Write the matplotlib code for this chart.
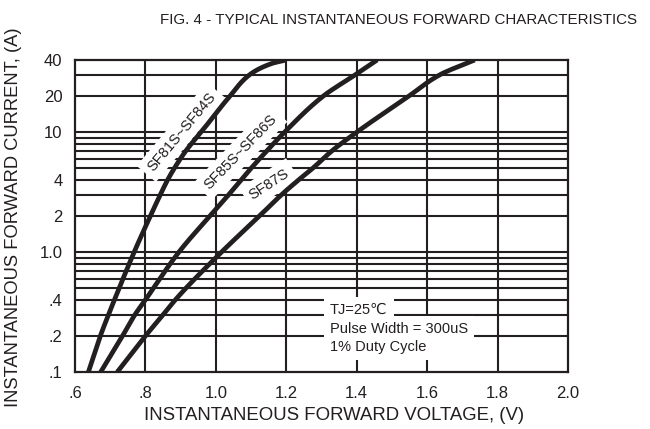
import matplotlib
matplotlib.use("Agg")
import matplotlib.pyplot as plt
import numpy as np

plt.rcParams['font.family'] = ['Liberation Sans', 'DejaVu Sans']

# --- data ---
v_sf81 = [0.638, 0.672, 0.695, 0.712, 0.768, 0.814, 0.842, 0.863, 0.882, 0.915, 0.958, 1.040, 1.095, 1.160, 1.200]
i_sf81 = [0.10, 0.20, 0.30, 0.40, 1.0, 2.0, 3.0, 4.0, 5.0, 7.0, 10.0, 20.0, 30.0, 37.5, 40.0]

v_sf85 = [0.673, 0.735, 0.770, 0.800, 0.895, 0.983, 1.036, 1.072, 1.100, 1.145, 1.195, 1.305, 1.395, 1.458]
i_sf85 = [0.10, 0.20, 0.30, 0.40, 1.0, 2.0, 3.0, 4.0, 5.0, 7.0, 10.0, 20.0, 30.0, 40.0]

v_sf87 = [0.720, 0.800, 0.850, 0.885, 1.016, 1.124, 1.186, 1.235, 1.275, 1.330, 1.400, 1.548, 1.635, 1.735]
i_sf87 = [0.10, 0.20, 0.30, 0.40, 1.0, 2.0, 3.0, 4.0, 5.0, 7.0, 10.0, 20.0, 30.0, 40.0]

x_ticks = [0.6, 0.8, 1.0, 1.2, 1.4, 1.6, 1.8, 2.0]
x_ticklabels = ['.6', '.8', '1.0', '1.2', '1.4', '1.6', '1.8', '2.0']
y_ticks = [0.1, 0.2, 0.4, 1.0, 2, 4, 10, 20, 40]
y_ticklabels = ['.1', '.2', '.4', '1.0', '2', '4', '10', '20', '40']
x_grid = [0.8, 1.0, 1.2, 1.4, 1.6, 1.8]
y_grid = [0.2, 0.3, 0.4, 0.5, 0.6, 0.7, 0.8, 0.9, 1.0, 2, 3, 4, 5, 6, 7, 8, 9, 10, 20, 30]

curve_labels = ['SF81S~SF84S', 'SF85S~SF86S', 'SF87S']
label_v = [0.902, 1.070, 1.152]
label_i = [10.0, 6.8, 3.7]
label_rot = [50, 46, 33]

note_lines = ['TJ=25\u2103', 'Pulse Width = 300uS', '1% Duty Cycle']
note_v = 1.324
note_i = [0.329, 0.228, 0.162]

INK = '#231f20'


def smooth(v, i, n=200):
    """Monotone cubic (Fritsch-Carlson) of V versus log10(I), for drawing only."""
    x = np.log10(np.asarray(i, float))
    y = np.asarray(v, float)
    h = np.diff(x)
    d = np.diff(y) / h
    m = np.zeros_like(y)
    m[0], m[-1] = d[0], d[-1]
    for k in range(1, len(y) - 1):
        if d[k - 1] * d[k] <= 0:
            m[k] = 0
        else:
            w1 = 2 * h[k] + h[k - 1]
            w2 = h[k] + 2 * h[k - 1]
            m[k] = (w1 + w2) / (w1 / d[k - 1] + w2 / d[k])
    xs = np.linspace(x[0], x[-1], n)
    idx = np.clip(np.searchsorted(x, xs) - 1, 0, len(x) - 2)
    t = (xs - x[idx]) / h[idx]
    h00 = 2 * t**3 - 3 * t**2 + 1
    h10 = t**3 - 2 * t**2 + t
    h01 = -2 * t**3 + 3 * t**2
    h11 = t**3 - t**2
    ys = h00 * y[idx] + h10 * h[idx] * m[idx] + h01 * y[idx + 1] + h11 * h[idx] * m[idx + 1]
    return ys, 10 ** xs


fig = plt.figure(figsize=(6.5, 4.29), dpi=100)
ax = fig.add_axes([75/650, 1-372/429, (568-75)/650, (372-60)/429])
ax.set_yscale('log')
ax.set_xlim(0.6, 2.0)
ax.set_ylim(0.1, 40)

for xv in x_grid:
    ax.axvline(xv, color=INK, lw=1.5, zorder=1)
for yv in y_grid:
    ax.axhline(yv, color=INK, lw=1.5, zorder=1)

for v, i in [(v_sf81, i_sf81), (v_sf85, i_sf85), (v_sf87, i_sf87)]:
    sv, si = smooth(v, i)
    ax.plot(sv, si, color=INK, lw=3.4, solid_capstyle='butt', zorder=4)

for txt, xv, yv, rot in zip(curve_labels, label_v, label_i, label_rot):
    ax.text(xv, yv, txt, rotation=rot, rotation_mode='anchor', ha='center', va='center',
            fontsize=10.5, color=INK, zorder=3,
            bbox=dict(facecolor='white', edgecolor='none', pad=4))

for line, yv in zip(note_lines, note_i):
    ax.text(note_v, yv, line, ha='left', va='center',
            fontsize=10.5, color=INK, zorder=3,
            bbox=dict(facecolor='white', edgecolor='none', pad=4.5))

ax.set_xticks(x_ticks)
ax.set_xticklabels(x_ticklabels)
ax.set_yticks(y_ticks)
ax.set_yticklabels(y_ticklabels)
ax.minorticks_off()
ax.tick_params(axis='both', length=0, labelsize=12, colors=INK)
ax.tick_params(axis='x', pad=10)
ax.tick_params(axis='y', pad=9)

for sp in ax.spines.values():
    sp.set_color(INK)
    sp.set_linewidth(1.6)
    sp.set_zorder(5)

ax.set_xlabel('INSTANTANEOUS FORWARD VOLTAGE, (V)', fontsize=13.4, color=INK)
ax.xaxis.set_label_coords((334 - 75) / 493, -(416 - 372) / 312)
ax.xaxis.label.set_va('center')
ax.set_ylabel('INSTANTANEOUS FORWARD CURRENT, (A)', fontsize=13.2, color=INK)
ax.yaxis.set_label_coords(-(75 - 14) / 493, (372 - 217) / 312)
ax.yaxis.label.set_va('center')
fig.text(399/650, 1-20/429, 'FIG. 4 - TYPICAL INSTANTANEOUS FORWARD CHARACTERISTICS',
         ha='center', va='center', fontsize=10.9, color=INK)

fig.savefig('out.png', dpi=100)
